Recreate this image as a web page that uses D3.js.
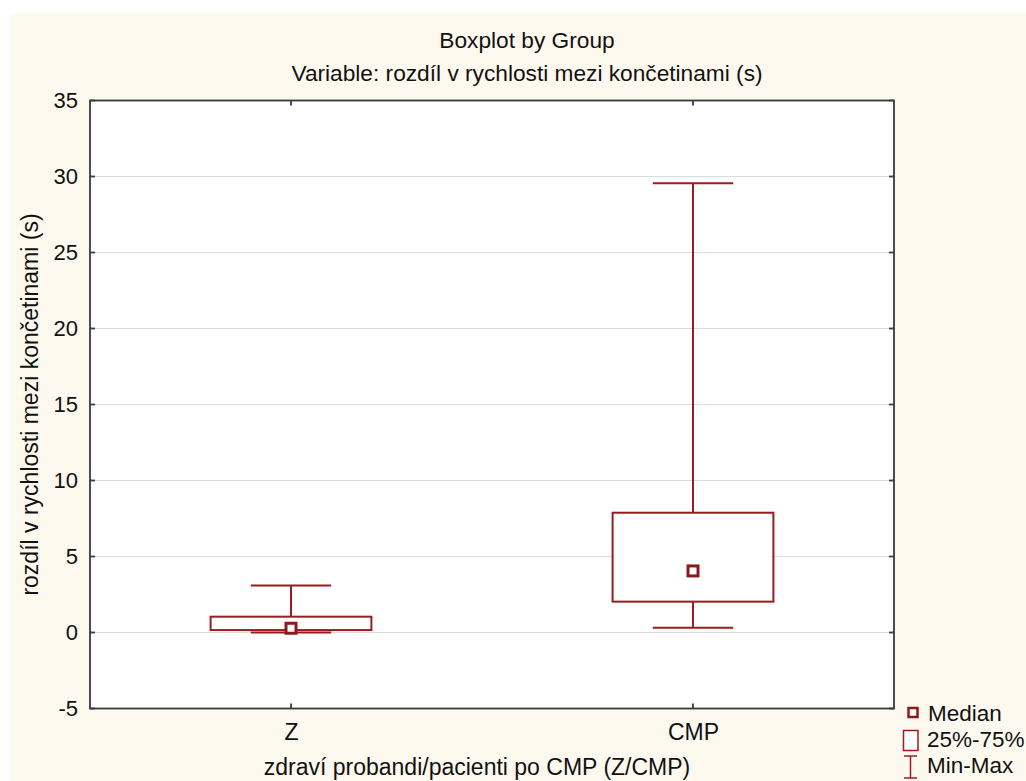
<!DOCTYPE html>
<html>
<head>
<meta charset="utf-8">
<script src="https://cdn.jsdelivr.net/npm/d3@7"></script>
<style>
  html, body { margin: 0; padding: 0; background: #ffffff; }
  svg text { font-family: "Liberation Sans", Arial, sans-serif; fill: #111; }
</style>
</head>
<body>
<svg id="chart" width="1026" height="781"></svg>
<script>
// Groups and five-number summaries of the limb speed difference (s)
const groups = ["Z", "CMP"];
const minValues = [0.0, 0.32];
const q1Values = [0.16, 2.03];
const medianValues = [0.28, 4.05];
const q3Values = [1.04, 7.88];
const maxValues = [3.1, 29.55];
const yTicks = [-5, 0, 5, 10, 15, 20, 25, 30, 35];

const rows = groups.map((g, i) => ({
  group: g, min: minValues[i], q1: q1Values[i], median: medianValues[i],
  q3: q3Values[i], max: maxValues[i]
}));

const W = 1026, H = 781;
const plot = { left: 90, top: 100.5, right: 894, bottom: 708.5 };
const red = "#9b1c20";
const darkRed = "#8a1a1e";
const frameColor = "#3a3a3a";

const svg = d3.select("#chart");

// cream page panel
svg.append("rect").attr("x", 10).attr("y", 14).attr("width", W - 10).attr("height", H - 14)
  .attr("fill", "#fef9ef");

const x = d3.scalePoint().domain(groups).range([plot.left, plot.right]).padding(0.5);
const y = d3.scaleLinear().domain([-5, 35]).range([plot.bottom, plot.top]);
const step = x.step();

// plot background
svg.append("rect").attr("x", plot.left).attr("y", plot.top)
  .attr("width", plot.right - plot.left).attr("height", plot.bottom - plot.top)
  .attr("fill", "#ffffff");

// horizontal grid
svg.append("g").selectAll("line").data(yTicks.filter(t => t > -5 && t < 35)).join("line")
  .attr("x1", plot.left).attr("x2", plot.right)
  .attr("y1", d => y(d)).attr("y2", d => y(d))
  .attr("stroke", "#dcdcdc").attr("stroke-width", 1.2);

// boxes and whiskers
const boxW = step * 0.4, capW = step * 0.2;
const g = svg.append("g").selectAll("g").data(rows).join("g");
g.append("line").attr("x1", d => x(d.group)).attr("x2", d => x(d.group))
  .attr("y1", d => y(d.max)).attr("y2", d => y(d.q3))
  .attr("stroke", red).attr("stroke-width", 2);
g.append("line").attr("x1", d => x(d.group)).attr("x2", d => x(d.group))
  .attr("y1", d => y(d.q1)).attr("y2", d => y(d.min))
  .attr("stroke", red).attr("stroke-width", 2);
g.append("line").attr("x1", d => x(d.group) - capW / 2).attr("x2", d => x(d.group) + capW / 2)
  .attr("y1", d => y(d.max)).attr("y2", d => y(d.max))
  .attr("stroke", red).attr("stroke-width", 2);
g.append("line").attr("x1", d => x(d.group) - capW / 2).attr("x2", d => x(d.group) + capW / 2)
  .attr("y1", d => y(d.min)).attr("y2", d => y(d.min))
  .attr("stroke", red).attr("stroke-width", 2);
g.append("rect").attr("x", d => x(d.group) - boxW / 2).attr("width", boxW)
  .attr("y", d => y(d.q3)).attr("height", d => y(d.q1) - y(d.q3))
  .attr("fill", "#ffffff").attr("stroke", red).attr("stroke-width", 2);
g.append("rect").attr("x", d => x(d.group) - 5).attr("y", d => y(d.median) - 5)
  .attr("width", 10).attr("height", 10)
  .attr("fill", "#ffffff").attr("stroke", darkRed).attr("stroke-width", 3);

// frame
svg.append("rect").attr("x", plot.left).attr("y", plot.top)
  .attr("width", plot.right - plot.left).attr("height", plot.bottom - plot.top)
  .attr("fill", "none").attr("stroke", frameColor).attr("stroke-width", 1.8);

// y axis (left) with inner ticks on both sides
const yAxis = d3.axisLeft(y).tickValues(yTicks).tickFormat(d => String(d))
  .tickSize(0).tickPadding(12);
const ya = svg.append("g").attr("transform", `translate(${plot.left},0)`).call(yAxis);
ya.select(".domain").remove();
ya.selectAll("text").attr("font-size", 22).attr("fill", "#111")
  .attr("font-family", "Liberation Sans, Arial, sans-serif");
svg.append("g").selectAll("line").data(yTicks).join("line")
  .attr("x1", plot.left).attr("x2", plot.left + 5)
  .attr("y1", d => y(d)).attr("y2", d => y(d)).attr("stroke", frameColor).attr("stroke-width", 1.8);
svg.append("g").selectAll("line").data(yTicks).join("line")
  .attr("x1", plot.right - 5).attr("x2", plot.right)
  .attr("y1", d => y(d)).attr("y2", d => y(d)).attr("stroke", frameColor).attr("stroke-width", 1.8);

// x axis (bottom) with inner ticks top and bottom
const xAxis = d3.axisBottom(x).tickSize(0).tickPadding(15);
const xa = svg.append("g").attr("transform", `translate(0,${plot.bottom})`).call(xAxis);
xa.select(".domain").remove();
xa.selectAll("text").attr("font-size", 23).attr("fill", "#111")
  .attr("font-family", "Liberation Sans, Arial, sans-serif");
svg.append("g").selectAll("line").data(groups).join("line")
  .attr("x1", d => x(d)).attr("x2", d => x(d))
  .attr("y1", plot.bottom - 5).attr("y2", plot.bottom).attr("stroke", frameColor).attr("stroke-width", 1.8);
svg.append("g").selectAll("line").data(groups).join("line")
  .attr("x1", d => x(d)).attr("x2", d => x(d))
  .attr("y1", plot.top).attr("y2", plot.top + 5).attr("stroke", frameColor).attr("stroke-width", 1.8);

// titles
svg.append("text").attr("x", 527).attr("y", 48).attr("text-anchor", "middle")
  .attr("font-size", 22.7).text("Boxplot by Group");
svg.append("text").attr("x", 527).attr("y", 81).attr("text-anchor", "middle")
  .attr("font-size", 22.7).text("Variable: rozdíl v rychlosti mezi končetinami (s)");

// axis titles
svg.append("text").attr("x", 477).attr("y", 775).attr("text-anchor", "middle")
  .attr("font-size", 23).text("zdraví probandi/pacienti po CMP (Z/CMP)");
svg.append("text").attr("transform", `translate(38,${(plot.top + plot.bottom) / 2}) rotate(-90)`)
  .attr("text-anchor", "middle").attr("font-size", 23)
  .text("rozdíl v rychlosti mezi končetinami (s)");

// legend
const lg = svg.append("g");
lg.append("rect").attr("x", 908.5).attr("y", 708).attr("width", 9).attr("height", 9)
  .attr("fill", "#ffffff").attr("stroke", darkRed).attr("stroke-width", 2.5);
lg.append("text").attr("x", 928).attr("y", 721).attr("font-size", 22.5).text("Median");
lg.append("rect").attr("x", 903.5).attr("y", 730.5).attr("width", 14.5).attr("height", 20)
  .attr("fill", "#ffffff").attr("stroke", red).attr("stroke-width", 1.5);
lg.append("text").attr("x", 927).attr("y", 747).attr("font-size", 22.5).text("25%-75%");
lg.append("line").attr("x1", 904).attr("x2", 917).attr("y1", 756).attr("y2", 756)
  .attr("stroke", red).attr("stroke-width", 1.5);
lg.append("line").attr("x1", 904).attr("x2", 917).attr("y1", 778).attr("y2", 778)
  .attr("stroke", red).attr("stroke-width", 1.5);
lg.append("line").attr("x1", 910.5).attr("x2", 910.5).attr("y1", 756).attr("y2", 778)
  .attr("stroke", red).attr("stroke-width", 1.5);
lg.append("text").attr("x", 927).attr("y", 773).attr("font-size", 22.5).text("Min-Max");
</script>
</body>
</html>
